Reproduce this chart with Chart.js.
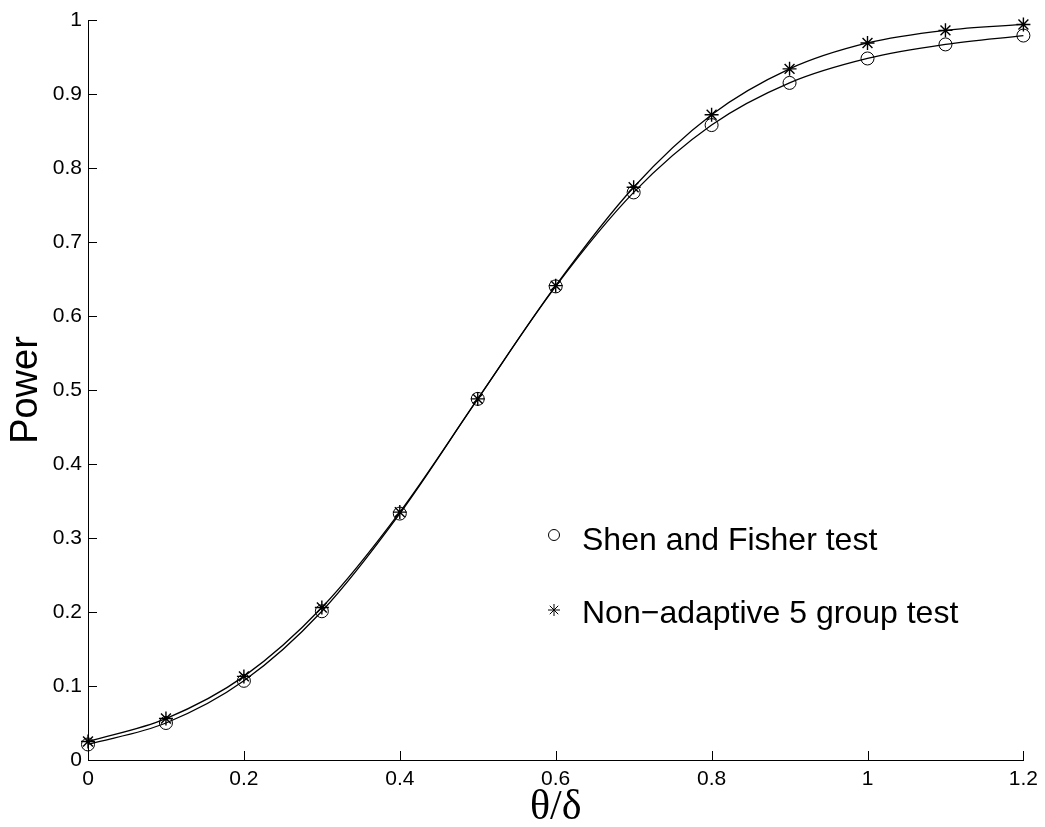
<!DOCTYPE html>
<html>
<head>
<meta charset="utf-8">
<script src="https://cdn.jsdelivr.net/npm/chart.js@4"></script>
<style>
  html, body { margin: 0; padding: 0; background: #fff; }
  #wrap { width: 1045px; height: 827px; }
</style>
</head>
<body>
<div id="wrap"><canvas id="chart" width="1045" height="827"></canvas></div>
<script>
const thetaOverDelta = [0, 0.1, 0.2, 0.3, 0.4, 0.5, 0.6, 0.7, 0.8, 0.9, 1.0, 1.1, 1.2];
const shenFisher = [0.021, 0.050, 0.107, 0.201, 0.333, 0.488, 0.640, 0.767, 0.858, 0.915, 0.948, 0.967, 0.979];
const nonAdaptive5 = [0.025, 0.056, 0.113, 0.206, 0.335, 0.488, 0.641, 0.774, 0.872, 0.934, 0.969, 0.986, 0.994];
const seriesLabels = ["Shen and Fisher test", "Non\u2212adaptive 5 group test"];

const FONT = "'Liberation Sans', Arial, Helvetica, sans-serif";

// inward tick marks (MATLAB style) + in-plot legend
const extras = {
  id: "extras",
  afterDraw(chart) {
    const ctx = chart.ctx;
    const xs = chart.scales.x, ys = chart.scales.y;
    ctx.save();
    ctx.strokeStyle = "#000";
    ctx.lineWidth = 1;
    xs.ticks.forEach(t => {
      const px = Math.round(xs.getPixelForValue(t.value)) + 0.5;
      ctx.beginPath();
      ctx.moveTo(px, ys.bottom);
      ctx.lineTo(px, ys.bottom - 9);
      ctx.stroke();
    });
    ys.ticks.forEach(t => {
      const py = Math.round(ys.getPixelForValue(t.value)) + 0.5;
      ctx.beginPath();
      ctx.moveTo(xs.left, py);
      ctx.lineTo(xs.left + 9, py);
      ctx.stroke();
    });

    // legend
    const lx = 554, rows = [541, 614], marks = [535, 610];
    ctx.font = "32px " + FONT;
    ctx.textBaseline = "middle";
    ctx.fillStyle = "#000";
    chart.data.datasets.forEach((ds, i) => {
      const y = rows[i], my = marks[i];
      ctx.lineWidth = 1;
      if (ds.pointStyle === "circle") {
        ctx.beginPath();
        ctx.arc(lx, my, 5.5, 0, Math.PI * 2);
        ctx.stroke();
      } else {
        const r = 6;
        for (let k = 0; k < 4; k++) {
          const a = k * Math.PI / 4;
          ctx.beginPath();
          ctx.moveTo(lx - r * Math.sin(a), my - r * Math.cos(a));
          ctx.lineTo(lx + r * Math.sin(a), my + r * Math.cos(a));
          ctx.stroke();
        }
      }
      ctx.fillText(ds.label, 582, y);
    });
    ctx.restore();
  }
};

new Chart(document.getElementById("chart"), {
  type: "line",
  data: {
    datasets: [
      {
        label: seriesLabels[0],
        data: thetaOverDelta.map((x, i) => ({ x, y: shenFisher[i] })),
        borderColor: "#000",
        borderWidth: 1.3,
        pointStyle: "circle",
        pointRadius: 6.5,
        pointBorderWidth: 1,
        pointBorderColor: "#000",
        pointBackgroundColor: "rgba(0,0,0,0)",
        cubicInterpolationMode: "monotone",
        fill: false,
      },
      {
        label: seriesLabels[1],
        data: thetaOverDelta.map((x, i) => ({ x, y: nonAdaptive5[i] })),
        borderColor: "#000",
        borderWidth: 1.3,
        pointStyle: "star",
        pointRadius: 7,
        pointBorderWidth: 1.4,
        pointBorderColor: "#000",
        pointBackgroundColor: "#000",
        cubicInterpolationMode: "monotone",
        fill: false,
      }
    ]
  },
  options: {
    responsive: false,
    animation: false,
    clip: false,
    layout: { padding: { top: 20, right: 19, left: 0, bottom: 0 } },
    plugins: { legend: { display: false }, tooltip: { enabled: false } },
    scales: {
      x: {
        type: "linear",
        min: 0, max: 1.2,
        afterFit: s => { s.height = 67; },
        grid: { display: true, drawOnChartArea: false, drawTicks: false },
        border: { display: true, color: "#000", width: 1 },
        ticks: {
          stepSize: 0.2, padding: 7, color: "#000",
          font: { family: FONT, size: 21 },
          maxRotation: 0,
          callback: v => String(+v.toFixed(1))
        },
        title: {
          display: true, text: "\u03b8/\u03b4", color: "#000",
          font: { family: "'Liberation Serif', 'Times New Roman', serif", size: 42 },
          padding: { top: 0, bottom: -6 }
        }
      },
      y: {
        type: "linear",
        min: 0, max: 1,
        afterFit: s => { s.width = 88; },
        grid: { display: true, drawOnChartArea: false, drawTicks: false },
        border: { display: true, color: "#000", width: 1 },
        ticks: {
          stepSize: 0.1, padding: 6, color: "#000",
          font: { family: FONT, size: 21 },
          callback: v => String(+v.toFixed(1))
        },
        title: {
          display: true, text: "Power", color: "#000",
          font: { family: FONT, size: 38 },
          padding: { top: 4, bottom: 0 }
        }
      }
    }
  },
  plugins: [extras]
});
</script>
</body>
</html>
